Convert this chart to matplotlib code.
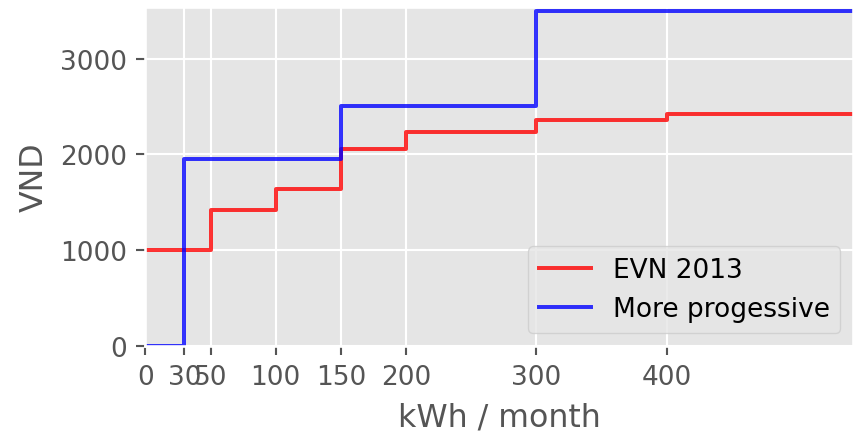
import numpy as np
from matplotlib import pyplot as plt

# tariff tiers
evn_edges = [0, 50, 100, 150, 200, 300, 400, 600]
evn_price = [1000, 1420, 1640, 2060, 2230, 2360, 2420, 2420]

prog_edges = [0, 30, 150, 300, 600]
prog_price = [0, 1950, 2500, 3500, 3500]

xticks = [0, 30, 50, 100, 150, 200, 300, 400]
yticks = [0, 1000, 2000, 3000]

DPI = 190


def main():
    plt.style.use('ggplot')
    fig = plt.figure(figsize=(855 / DPI, 437 / DPI), dpi=DPI)
    ax = fig.add_axes([0.170, 0.206, 0.828, 0.776])

    ax.step(evn_edges, evn_price, where='post', color='red', alpha=0.8,
            label='EVN 2013')
    ax.step(prog_edges, prog_price, where='post', color='blue', alpha=0.8,
            label='More progessive')

    ax.set_xlim(0, 543)
    ax.set_ylim(0, 3540)
    ax.set_xticks(xticks)
    ax.set_yticks(yticks)
    ax.set_xlabel('kWh / month')
    ax.set_ylabel('VND')
    ax.legend(loc='lower right')

    fig.savefig('out.png', dpi=DPI)


if __name__ == '__main__':
    main()
